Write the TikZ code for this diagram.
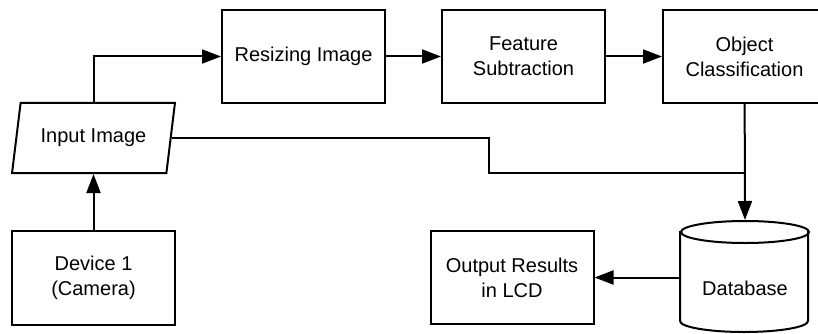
\documentclass[tikz,border=0pt]{standalone}
\usepackage{fontspec}
\setmainfont{Liberation Sans}
\usetikzlibrary{arrows.meta, shapes.geometric}

\begin{document}
\begin{tikzpicture}[x=1pt, y=-1pt, line width=2pt,
        box/.style={rectangle, draw, minimum width=163pt, minimum height=93pt, align=center, inner sep=2pt},
        flow/.style={-{Triangle[length=19pt, width=14pt]}}]
        \useasboundingbox (0, 0) rectangle (818, 334);
        \begin{scope}[every node/.style={font=\fontsize{20}{25}\selectfont}]
            \node[box] (resize) at (303.5, 56.5) {Resizing Image};
            \node[box] (feature) at (523.5, 56.5) {Feature\\Subtraction};
            \node[box] (object) at (744.5, 56.5) {Object\\Classification};
            \node[trapezium, draw, trapezium left angle=75, trapezium right angle=105, trapezium stretches=true, minimum width=163pt, minimum height=70pt] (input) at (93.5, 138) {Input Image};
            \node[box, minimum height=94pt] (device) at (93.5, 278) {Device 1\\(Camera)};
            \node[box] (output) at (512, 277.5) {Output Results\\in LCD};
            \node[minimum width=128pt, minimum height=112pt, inner sep=0pt] (db) at (745, 277) {};
            \node (dblabel) at (745, 288) {Database};
        \end{scope}
        \draw (db.north west) ++(0, 11) -- ++(0, 90) arc[start angle=180, end angle=360, x radius=64, y radius=-11] -- ++(0, -90);
        \draw (745, 232) ellipse[x radius=64, y radius=11];

        \coordinate (bend) at (489, 173);
        \coordinate (join) at (object.south |- bend);

        \draw[flow] (device) -- (input);
        \draw[flow] (input.north) |- (resize);
        \draw[flow] (resize) -- (feature);
        \draw[flow] (feature) -- (object);
        \draw[flow] (object) -- (db.north);
        \draw (input.east) -| (bend) -- (join);
        \draw[flow] (db.west |- output.east) -- (output);
    \end{tikzpicture}
\end{document}
